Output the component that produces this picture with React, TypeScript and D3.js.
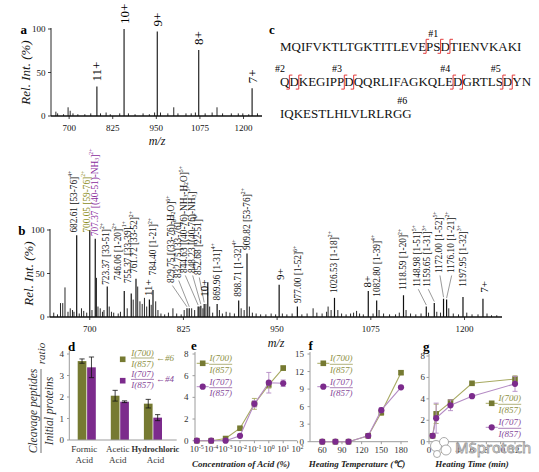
import React, { useMemo } from 'react';
import * as d3 from 'd3';

const SERIF = "'Liberation Serif', 'Times New Roman', Times, serif";
const INK = '#111';
const OLIVE = '#767a32';
const PURPLE = '#7c2b8c';
const OLIVE_LINE = '#a8aa62';
const PURPLE_LINE = '#b48bc4';
const OLIVE_TEXT = '#8e9045';
const PURPLE_TEXT = '#874a9a';
const AXIS_GRAY = '#9c9c9c';
const RED = '#e23b3b';

// ---------- a: intact ubiquitin, charge states
const chargeNames = ['11+', '10+', '9+', '8+', '7+'];
const chargeMz = [779.6, 857.5, 952.7, 1071.6, 1224.6];
const chargeIntA = [34, 100, 97, 76, 32];
const minorA: [number, number][] = [
  [662, 5], [667, 3], [684, 2], [697, 10], [703, 6], [711, 3], [725, 2], [745, 2], [762, 3],
  [790, 3], [806, 4], [818, 2], [845, 3], [870, 3], [889, 2], [912, 3], [930, 2], [945, 4],
  [962, 4], [983, 3], [1000, 10], [1012, 3], [1035, 3], [1050, 3], [1062, 4], [1090, 3],
  [1110, 4], [1124, 10], [1140, 3], [1165, 3], [1185, 3], [1198, 3], [1215, 2], [1240, 3],
];
const mzTicks = [700, 825, 950, 1075, 1200];
const relTicks = [0, 50, 100];

// ---------- b: after acid cleavage
const chargeIntB = [20, 40, 37, 30, 21];
const chargeLabelB: [number, number][] = [[777.3, 24], [852.8, 23.3], [953.8, 42.5], [1069.5, 34], [1225.9, 28]];

const fragMz = [682.61, 700.05, 707.37, 723.37, 746.06, 755.37, 761.72, 784.40, 829.75, 832.75,
  844.63, 848.23, 852.68, 869.96, 898.71, 909.82, 977.00, 1026.53, 1082.80, 1118.59,
  1148.98, 1159.65, 1172.00, 1176.10, 1197.95];
const fragInt = [94, 100, 90, 35, 30, 27, 44, 31, 10, 10, 12, 13, 15, 15, 19, 73, 12, 22, 19, 25, 12, 16, 21, 20, 23];
const fragLabels = [
  '682.61 [53-76]^{4+}', '700.05 [59-76]^{2+}', '707.37 [(40-51)-NH_{3}]^{2+}', '723.37 [33-51]^{2+}',
  '746.06 [1-20]^{2+}', '755.37 [33-39]^{1+}', '761.72 [33-52]^{2+}', '784.40 [1-21]^{2+}',
  '829.75 [(33-76)-H_{2}O]^{6+}', '832.75 [33-76]^{6+}', '844.63 [(40-76)-NH_{3}-H_{2}O]^{5+}',
  '848.23 [(40-76)-NH_{3}]^{5+}', '852.68 [22-51]^{4+}', '869.96 [1-31]^{4+}', '898.71 [1-32]^{4+}',
  '909.82 [53-76]^{2+}', '977.00 [1-52]^{6+}', '1026.53 [1-18]^{2+}', '1082.80 [1-39]^{4+}',
  '1118.59 [1-20]^{2+}', '1148.98 [1-51]^{5+}', '1159.65 [1-31]^{3+}', '1172.00 [1-52]^{5+}',
  '1176.10 [1-21]^{2+}', '1197.95 [1-32]^{3+}',
];
// label foot, in (m/z, %) units
const fragLabelAt: [number, number][] = [
  [679, 97], [695.7, 97], [707, 93], [721.7, 37], [738, 42.5], [751, 39], [759.5, 50.6], [784.8, 48],
  [809, 39], [817.4, 44.8], [826.2, 50.6], [836, 50.6], [844.8, 48.3], [869.4, 19], [897.8, 23.3],
  [909.4, 77], [978.2, 16], [1025.9, 27.6], [1082.8, 23.3], [1118.3, 31], [1137, 34.8], [1150.3, 34.8],
  [1165.9, 50.6], [1181.5, 50.6], [1197.6, 34.8],
];
const fragTone = ['k', 'o', 'p', 'k', 'k', 'k', 'k', 'k', 'k', 'k', 'k', 'k', 'k', 'k', 'k', 'k', 'k', 'k', 'k', 'k', 'k', 'k', 'k', 'k', 'k'];
const fragLeader = [0, 0, 0, 0, 0, 0, 0, 0, 1, 1, 1, 1, 1, 0, 0, 0, 0, 0, 0, 0, 1, 1, 1, 1, 0];
const minorB: [number, number][] = [
  [652, 5], [657, 3], [661, 16], [664, 16], [667, 34], [671, 6], [674, 10], [677, 8], [679, 6], [686, 4],
  [689, 10], [692, 7], [696, 5], [703, 8], [709, 45], [711, 12], [714, 10], [717, 6], [719, 8], [726, 12],
  [729, 6], [732, 5], [738, 4], [741, 6], [750, 10], [758, 20], [764, 35], [767, 18], [770, 15], [773, 22],
  [776, 12], [782, 14], [788, 18], [791, 8], [795, 4], [800, 3], [805, 5], [811, 10], [816, 4], [822, 3],
  [826, 8], [836, 10], [840, 8], [846, 12], [851, 10], [855, 15], [860, 12], [864, 5], [873, 8], [877, 4],
  [882, 6], [887, 5], [893, 4], [902, 10], [906, 8], [913, 12], [917, 5], [922, 4], [928, 3], [935, 3],
  [942, 4], [948, 3], [957, 4], [963, 3], [970, 4], [983, 3], [990, 4], [998, 10], [1003, 5], [1010, 4],
  [1016, 6], [1018, 12], [1022, 8], [1031, 8], [1036, 4], [1042, 3], [1048, 4], [1052, 5], [1056, 7],
  [1060, 4], [1065, 3], [1078, 4], [1086, 8], [1092, 4], [1100, 3], [1108, 3], [1113, 5], [1122, 8],
  [1128, 4], [1135, 3], [1142, 4], [1152, 5], [1163, 6], [1168, 5], [1179, 10], [1185, 4], [1192, 3],
  [1203, 5], [1210, 3], [1218, 3], [1230, 4], [1236, 2], [1243, 2],
];

// ---------- c: sequence with cleavage sites
const seqLines = ['MQIFVKTLTGKTITLEVEPSDTIENVKAKI', 'QDKEGIPPDQQRLIFAGKQLEDGRTLSDYN', 'IQKESTLHLVLRLRGG'];
const cutSites: [number, number][] = [[0, 18], [0, 20], [0, 21], [1, 1], [1, 2], [1, 8], [1, 9], [1, 21], [1, 22], [1, 27], [1, 28]];
const siteTags = ['#1', '#2', '#3', '#4', '#5', '#6'];
const siteTagAt: [number, number][] = [[0, 19], [1, 0], [1, 7], [1, 20], [1, 26], [2, 15]];

// ---------- d: acids
const acidNames = ['Formic', 'Acetic', 'Hydrochloric'];
const ratio700 = [3.67, 2.06, 1.69];
const err700 = [0.1, 0.25, 0.2];
const ratio707 = [3.38, 1.78, 1.04];
const err707 = [0.48, 0.04, 0.14];
const dTicks = [0, 1, 2, 3, 4];

// ---------- e: concentration
const concVals = [1e-5, 1e-4, 1e-3, 1e-2, 1e-1, 1, 10];
const conc700 = [0, 0, 0.2, 1.15, 3.4, 5.15, 6.7];
const conc700Err = [0, 0, 0.05, 0.1, 0.5, 0.3, 0.2];
const conc707 = [0, 0, 0, 0.45, 3.4, 5.35, 5.3];
const conc707Err = [0, 0, 0, 0.05, 0.3, 0.95, 0.3];
const concTicks = [1e-5, 1e-4, 1e-3, 1e-2, 1e-1, 1, 10, 100];
const eTicks = [0, 2, 4, 6, 8];

// ---------- f: temperature
const tempVals = [60, 80, 100, 130, 150, 180];
const temp700 = [0, 0, 0, 1.0, 5.0, 11.8];
const temp700Err = [0, 0, 0, 0.2, 0.5, 0.3];
const temp707 = [0, 0, 0, 1.0, 5.4, 9.3];
const temp707Err = [0, 0, 0, 0.1, 0.4, 0.2];
const tempTicks = [60, 90, 120, 150, 180];
const fTicks = [0, 3, 6, 9, 12, 15];

// ---------- g: time
const timeVals = [0.5, 1, 3, 6, 12];
const time700 = [0.55, 2.6, 3.7, 5.45, 5.85];
const time700Err = [0.05, 0.9, 0.2, 0.1, 0.3];
const time707 = [0.55, 2.2, 3.4, 4.25, 5.4];
const time707Err = [0.05, 1.4, 0.5, 0.1, 0.7];
const timeTicks = [0, 2, 4, 6, 8, 10, 12];
const gTicks = [0, 2, 4, 6, 8];

// superscript / subscript markup -> tspans
function rich(s: string, fs: number) {
  const parts = s.split(/(\^\{[^}]*\}|_\{[^}]*\})/).filter((p) => p.length);
  let shift = 0;
  return parts.map((p, i) => {
    let target = 0;
    let size = fs;
    let txt = p;
    if (p.startsWith('^{')) { target = -fs * 0.4; size = fs * 0.62; txt = p.slice(2, -1); }
    else if (p.startsWith('_{')) { target = fs * 0.22; size = fs * 0.62; txt = p.slice(2, -1); }
    const dy = target - shift;
    shift = target;
    return <tspan key={i} dy={dy || undefined} fontSize={size}>{txt}</tspan>;
  });
}

function SpecAxes({ x, y, ylabX, mzX, mzY }: any) {
  const [x0, x1] = x.range();
  const y0 = y(0);
  return (
    <g fill={INK}>
      <line x1={x0} x2={x1} y1={y0} y2={y0} stroke={INK} strokeWidth={1.6} />
      <line x1={x0} x2={x0} y1={y0} y2={y(100) - 1} stroke={INK} strokeWidth={0.9} />
      {mzTicks.map((t) => (
        <g key={t}>
          <line x1={x(t)} x2={x(t)} y1={y0} y2={y0 + 3} stroke={INK} strokeWidth={0.8} />
          <text x={x(t)} y={y0 + 14.5} textAnchor="middle" fontSize={9}>{t}</text>
        </g>
      ))}
      {relTicks.map((t) => (
        <g key={t}>
          <line x1={x0 - 3} x2={x0} y1={y(t)} y2={y(t)} stroke={INK} strokeWidth={0.8} />
          <text x={x0 - 5.5} y={y(t) + 3} textAnchor="end" fontSize={9}>{t}</text>
        </g>
      ))}
      <text x={mzX} y={mzY} textAnchor="middle" fontSize={12} fontStyle="italic">m/z</text>
      <text transform={`translate(${ylabX},${(y(0) + y(100)) / 2}) rotate(-90)`} textAnchor="middle"
        dominantBaseline="central" fontSize={13} fontStyle="italic">Rel. Int. (%)</text>
    </g>
  );
}

function Sticks({ x, y, peaks, w = 1 }: any) {
  return (
    <g stroke={INK} strokeWidth={w}>
      {peaks.map(([mz, v]: [number, number], i: number) => (
        <line key={i} x1={x(mz)} x2={x(mz)} y1={y(0)} y2={y(v)} />
      ))}
    </g>
  );
}

function PanelA() {
  const x = d3.scaleLinear().domain([648, 1253]).range([51, 262]);
  const y = d3.scaleLinear().domain([0, 100]).range([116, 29]);
  const main = chargeMz.map((m, i) => [m, chargeIntA[i]]);
  return (
    <g>
      <text x={20.5} y={33.5} fontSize={13} fontWeight="bold">a</text>
      <Sticks x={x} y={y} peaks={minorA} w={0.9} />
      <Sticks x={x} y={y} peaks={main} w={1.1} />
      <SpecAxes x={x} y={y} ylabX={25} mzX={157} mzY={144.5} />
      {chargeNames.map((c, i) => (
        <text key={c} transform={`translate(${x(chargeMz[i])},${y(chargeIntA[i]) - 5}) rotate(-90)`}
          dominantBaseline="central" fontSize={13}>{c}</text>
      ))}
    </g>
  );
}

function PanelB() {
  const x = d3.scaleLinear().domain([647, 1250]).range([50, 502]);
  const y = d3.scaleLinear().domain([0, 100]).range([317, 230]);
  const frags = fragMz.map((m, i) => [m, fragInt[i]]);
  const charges = chargeMz.map((m, i) => [m, chargeIntB[i]]);
  const tone = (t: string) => (t === 'o' ? '#8d8d1c' : t === 'p' ? '#8a2c9c' : INK);
  return (
    <g>
      <text x={18.3} y={235} fontSize={13} fontWeight="bold">b</text>
      <Sticks x={x} y={y} peaks={minorB} w={0.9} />
      <Sticks x={x} y={y} peaks={frags} w={1.2} />
      <Sticks x={x} y={y} peaks={charges} w={1.2} />
      <SpecAxes x={x} y={y} ylabX={28} mzX={276} mzY={346.5} />
      {fragLabels.map((s, i) => {
        const [lm, li] = fragLabelAt[i];
        return (
          <g key={s}>
            {fragLeader[i] ? (
              <line x1={x(lm) + 1} y1={y(li) + 2.5} x2={x(fragMz[i])} y2={y(fragInt[i]) - 1.5}
                stroke="#555" strokeWidth={0.6} />
            ) : null}
            <text transform={`translate(${x(lm)},${y(li)}) rotate(-90)`} dominantBaseline="central"
              fontSize={9.3} fill={tone(fragTone[i])}>{rich(s, 9.3)}</text>
          </g>
        );
      })}
      {chargeNames.map((c, i) => (
        <text key={c} transform={`translate(${x(chargeLabelB[i][0])},${y(chargeLabelB[i][1])}) rotate(-90)`}
          dominantBaseline="central" fontSize={11}>{c}</text>
      ))}
    </g>
  );
}

function PanelC() {
  const fontPx = 13;
  const x0 = 280;
  const baselines = [50.5, 86.3, 118];
  const tagBase = [37, 72, 103.7];
  const offsets = useMemo(() => {
    const ctx = document.createElement('canvas').getContext('2d');
    return seqLines.map((line) => {
      const out: number[] = [];
      for (let i = 0; i <= line.length; i++) {
        if (ctx) {
          ctx.font = `${fontPx}px 'Liberation Serif'`;
          out.push(ctx.measureText(line.slice(0, i)).width);
        } else out.push(i * 8.2);
      }
      return out;
    });
  }, []);
  return (
    <g>
      <text x={269} y={33.5} fontSize={13} fontWeight="bold">c</text>
      {seqLines.map((line, k) => (
        <text key={k} x={x0} y={baselines[k]} fontSize={fontPx} fill={INK}>{line}</text>
      ))}
      {siteTags.map((t, i) => {
        const [ln, idx] = siteTagAt[i];
        return (
          <text key={t} x={x0 + offsets[ln][idx]} y={tagBase[ln]} textAnchor="middle" fontSize={10}>{t}</text>
        );
      })}
      <g fill="none" stroke={RED} strokeWidth={1}>
        {cutSites.map(([ln, idx], i) => {
          const bx = x0 + offsets[ln][idx];
          const b = baselines[ln];
          return <path key={i} d={`M${bx - 3},${b + 2.8}H${bx}V${b - 11.2}H${bx + 3}`} />;
        })}
      </g>
    </g>
  );
}

function Marker({ cx, cy, shape, fill }: any) {
  return shape === 'square'
    ? <rect x={cx - 2.8} y={cy - 2.8} width={5.6} height={5.6} fill={fill} />
    : <circle cx={cx} cy={cy} r={3.1} fill={fill} />;
}

function FracLegend({ mx, my, shape, dot, line, txt, num, den, dx = 18, withLine = true, suffix = '', top = -2, bar = 1, bot = 9.5 }: any) {
  const cx = mx + dx;
  return (
    <g fontStyle="italic" fontSize={9} fill={txt}>
      {withLine ? <line x1={mx - 6} x2={mx + 6} y1={my} y2={my} stroke={line} strokeWidth={1} /> : null}
      <Marker cx={mx} cy={my} shape={shape} fill={dot} />
      <text x={cx} y={my + top} textAnchor="middle">{num}</text>
      <line x1={cx - 11.5} x2={cx + 11.5} y1={my + bar} y2={my + bar} stroke={txt} strokeWidth={0.7} />
      <text x={cx} y={my + bot} textAnchor="middle">{den}</text>
      {suffix ? <text x={cx + 13.5} y={my + bar + 3}>{suffix}</text> : null}
    </g>
  );
}

function PanelD() {
  const x = d3.scaleBand().domain(acidNames).range([70.2, 169.5]);
  const sub = d3.scaleBand().domain(['700', '707']).range([7.5, 25.6]).paddingInner(0.08);
  const y = d3.scaleLinear().domain([0, 4]).range([440, 354]);
  const bw = sub.bandwidth();
  const series = [
    { key: '700', vals: ratio700, errs: err700, fill: OLIVE },
    { key: '707', vals: ratio707, errs: err707, fill: PURPLE },
  ];
  // the long "Hydrochloric" label is pushed right, the others slightly left, as in the figure
  const labelNudge = [-2.4, -2, 2.5];
  return (
    <g>
      <text x={68} y={350.5} fontSize={13} fontWeight="bold">d</text>
      <g transform="translate(40.5,411) rotate(-90)" fontStyle="italic" fill="#333">
        <text x={0} y={-7.5} textAnchor="middle" dominantBaseline="central" fontSize={11.5}>Cleavage peptides</text>
        <line x1={-42} x2={42} y1={0.5} y2={0.5} stroke="#333" strokeWidth={0.7} />
        <text x={0} y={8} textAnchor="middle" dominantBaseline="central" fontSize={11.5}>Initial proteins</text>
        <text x={57.5} y={0.5} textAnchor="middle" dominantBaseline="central" fontSize={11}>ratio</text>
      </g>
      {series.map((s) => acidNames.map((c, i) => {
        const bx = (x(c) as number) + (sub(s.key) as number);
        const cx = bx + bw / 2;
        return (
          <g key={s.key + c}>
            <rect x={bx} y={y(s.vals[i])} width={bw} height={y(0) - y(s.vals[i])} fill={s.fill} />
            <g stroke={INK} strokeWidth={0.8}>
              <line x1={cx} x2={cx} y1={y(s.vals[i] + s.errs[i])} y2={y(s.vals[i] - s.errs[i])} />
              <line x1={cx - 2.6} x2={cx + 2.6} y1={y(s.vals[i] + s.errs[i])} y2={y(s.vals[i] + s.errs[i])} />
              <line x1={cx - 2.6} x2={cx + 2.6} y1={y(s.vals[i] - s.errs[i])} y2={y(s.vals[i] - s.errs[i])} />
            </g>
          </g>
        );
      }))}
      <line x1={69.3} x2={69.3} y1={440} y2={351} stroke={AXIS_GRAY} strokeWidth={1} />
      <line x1={69.3} x2={176.7} y1={440} y2={440} stroke={AXIS_GRAY} strokeWidth={1} />
      {dTicks.map((t) => (
        <g key={t}>
          <line x1={67} x2={69.3} y1={y(t)} y2={y(t)} stroke={AXIS_GRAY} />
          <text x={64} y={y(t) + 3} textAnchor="end" fontSize={9} fill="#333">{t}</text>
        </g>
      ))}
      {acidNames.map((c, i) => {
        const cx = (x(c) as number) + x.bandwidth() / 2 + labelNudge[i];
        return (
          <g key={c} fill="#333" textAnchor="middle">
            <text x={cx} y={452} fontSize={i === 2 ? 8.4 : 9} fontWeight={i === 2 ? 'bold' : 'normal'}>{c}</text>
            <text x={cx} y={463} fontSize={9}>Acid</text>
          </g>
        );
      })}
      <FracLegend mx={122.7} my={359.3} shape="square" dot={OLIVE} txt={OLIVE_TEXT} num="I(700)" den="I(857)"
        dx={19.8} withLine={false} suffix="←#6" top={-3.3} bar={-1.3} bot={7.2} />
      <FracLegend mx={122.7} my={380.7} shape="square" dot={PURPLE} txt={PURPLE_TEXT} num="I(707)" den="I(857)"
        dx={19.8} withLine={false} suffix="←#4" top={-3.3} bar={-1.3} bot={7.2} />
    </g>
  );
}

function LinePanel({ x, y, xv, s700, e700, s707, e707, xTicks, yTicks, xTick, axisX, axisEnd, yLabRight,
  letter, letterX, letterY, title, titleX, legX, legY, legGap }: any) {
  const y0 = y(0);
  const yTop = y(yTicks[yTicks.length - 1]);
  const line = d3.line<number>().x((_, i) => x(xv[i])).y((v) => y(v));
  const series = [
    { vals: s700, errs: e700, dot: OLIVE, ln: OLIVE_LINE, shape: 'square' },
    { vals: s707, errs: e707, dot: PURPLE, ln: PURPLE_LINE, shape: 'circle' },
  ];
  return (
    <g>
      <text x={letterX} y={letterY} fontSize={13} fontWeight="bold">{letter}</text>
      <line x1={axisX} x2={axisX} y1={y0} y2={yTop - 2} stroke={AXIS_GRAY} />
      <line x1={axisX} x2={axisEnd} y1={y0} y2={y0} stroke={AXIS_GRAY} />
      {yTicks.map((t: number) => (
        <g key={t}>
          <line x1={axisX - 2.5} x2={axisX} y1={y(t)} y2={y(t)} stroke={AXIS_GRAY} />
          <text x={yLabRight} y={y(t) + 3} textAnchor="end" fontSize={9} fill="#333">{t}</text>
        </g>
      ))}
      {xTicks.map((t: number) => (
        <g key={t}>
          <line x1={x(t)} x2={x(t)} y1={y0} y2={y0 + 2.5} stroke={AXIS_GRAY} />
          <text x={x(t)} y={y0 + 11.5} textAnchor="middle" fontSize={9} fill="#333">{xTick(t)}</text>
        </g>
      ))}
      {series.map((s, k) => (
        <g key={k}>
          <path d={line(s.vals) || ''} fill="none" stroke={s.ln} strokeWidth={1.1} />
          <g stroke={s.ln} strokeWidth={0.9}>
            {s.vals.map((v: number, i: number) => s.errs[i] > 0.06 ? (
              <g key={i}>
                <line x1={x(xv[i])} x2={x(xv[i])} y1={y(v + s.errs[i])} y2={y(v - s.errs[i])} />
                <line x1={x(xv[i]) - 2.5} x2={x(xv[i]) + 2.5} y1={y(v + s.errs[i])} y2={y(v + s.errs[i])} />
                <line x1={x(xv[i]) - 2.5} x2={x(xv[i]) + 2.5} y1={y(v - s.errs[i])} y2={y(v - s.errs[i])} />
              </g>
            ) : null)}
          </g>
          {s.vals.map((v: number, i: number) => (
            <Marker key={i} cx={x(xv[i])} cy={y(v)} shape={s.shape} fill={s.dot} />
          ))}
        </g>
      ))}
      <text x={titleX} y={466.5} textAnchor="middle" fontSize={9} fontWeight="bold" fontStyle="italic" fill="#222">{title}</text>
      <FracLegend mx={legX} my={legY} shape="square" dot={OLIVE} line={OLIVE_LINE} txt={OLIVE_TEXT} num="I(700)" den="I(857)" />
      <FracLegend mx={legX} my={legY + legGap} shape="circle" dot={PURPLE} line={PURPLE_LINE} txt={PURPLE_TEXT} num="I(707)" den="I(857)" />
    </g>
  );
}

function Watermark() {
  return (
    <g>
      <g fill="#fff" stroke="#a0a0a0" strokeWidth={0.9}>
        <circle cx={436} cy={446} r={5.5} />
        <circle cx={444} cy={442} r={4.5} />
        <circle cx={446} cy={450} r={5} />
        <circle cx={437} cy={454} r={3.5} />
      </g>
      <text x={455} y={453} fontFamily="'Noto Sans', sans-serif" fontSize={15} fill="#fff" stroke="#9a9a9a"
        strokeWidth={0.8}>MSprotech</text>
    </g>
  );
}

export default function App() {
  const ex = d3.scaleLog().domain([1e-5, 1e2]).range([196.8, 297.6]);
  const ey = d3.scaleLinear().domain([0, 8]).range([440.7, 354]);
  const fx = d3.scaleLinear().domain([60, 180]).range([322.3, 401]);
  const fy = d3.scaleLinear().domain([0, 15]).range([441.7, 354]);
  const gx = d3.scaleLinear().domain([0, 12]).range([429, 515]);
  const gy = d3.scaleLinear().domain([0, 8]).range([441.7, 356]);
  const powLabel = (t: number) => (
    <>
      10<tspan dy={-3.5} fontSize={6}>{Math.round(Math.log10(t))}</tspan>
    </>
  );
  return (
    <svg width={539} height={472} viewBox="0 0 539 472" fontFamily={SERIF}
      style={{ position: 'absolute', left: 0, top: 0, display: 'block', background: '#fff' }}>
      <rect width={539} height={472} fill="#fff" />
      <PanelA />
      <PanelC />
      <PanelB />
      <PanelD />
      <LinePanel x={ex} y={ey} xv={concVals} s700={conc700} e700={conc700Err} s707={conc707} e707={conc707Err}
        xTicks={concTicks} yTicks={eTicks} xTick={powLabel} axisX={195} axisEnd={297} yLabRight={188.5}
        letter="e" letterX={191} letterY={349.5} title="Concentration of Acid (%)" titleX={241}
        legX={202.7} legY={363.3} legGap={23.4} />
      <LinePanel x={fx} y={fy} xv={tempVals} s700={temp700} e700={temp700Err} s707={temp707} e707={temp707Err}
        xTicks={tempTicks} yTicks={fTicks} xTick={(t: number) => t} axisX={310} axisEnd={408} yLabRight={304}
        letter="f" letterX={308.5} letterY={349.5} title="Heating Temperature (℃)" titleX={357}
        legX={323.3} legY={363.3} legGap={23.4} />
      <LinePanel x={gx} y={gy} xv={timeVals} s700={time700} e700={time700Err} s707={time707} e707={time707Err}
        xTicks={timeTicks} yTicks={gTicks} xTick={(t: number) => t} axisX={429} axisEnd={525} yLabRight={425}
        letter="g" letterX={423} letterY={351} title="Heating Time (min)" titleX={472}
        legX={491.7} legY={403.3} legGap={24} />
      <Watermark />
    </svg>
  );
}
